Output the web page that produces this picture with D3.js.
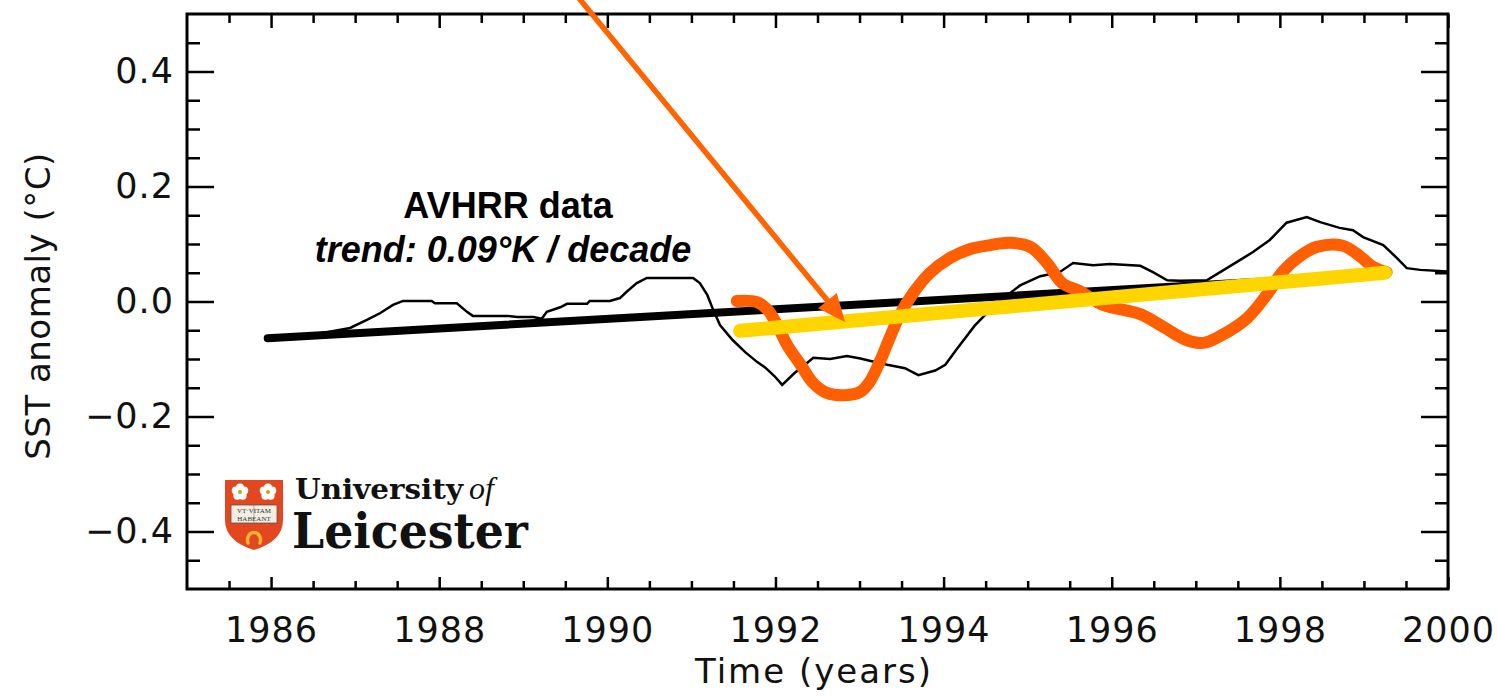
<!DOCTYPE html>
<html lang="en">
    <head>
        <meta charset="utf-8">
        <title>SST anomaly</title>
        <script type="text/javascript" src="https://cdn.jsdelivr.net/npm/d3@7"></script>
        <style>
            body { margin: 0; background: #fff; }
        </style>
    </head>
    <body>
        <script type="text/javascript">
        var w = 1498;
        var h = 696;

        // axis ticks
        var yearTicks = [1986, 1988, 1990, 1992, 1994, 1996, 1998, 2000];
        var anomalyTicks = [-0.4, -0.2, 0.0, 0.2, 0.4];

        // AVHRR monthly anomaly (thin black), [year, °C]
        var avhrrSeries = [
            [1985.96, -0.062], [1986.5, -0.058], [1986.94, -0.046], [1987.14, -0.032],
            [1987.30, -0.020], [1987.45, -0.006], [1987.57, 0.001], [1987.91, 0.001],
            [1987.95, -0.003], [1988.21, -0.003], [1988.33, -0.018], [1988.40, -0.025],
            [1988.81, -0.025], [1988.93, -0.027], [1989.12, -0.027], [1989.22, -0.030],
            [1989.28, -0.018], [1989.44, -0.010], [1989.52, -0.004], [1989.76, -0.004],
            [1989.79, 0.001], [1990.03, 0.001], [1990.15, 0.006], [1990.23, 0.017],
            [1990.35, 0.032], [1990.47, 0.041], [1991.02, 0.041], [1991.10, 0.032],
            [1991.19, 0.011], [1991.26, -0.015], [1991.34, -0.041], [1991.49, -0.067],
            [1991.64, -0.088], [1991.78, -0.105], [1991.88, -0.115], [1991.99, -0.130],
            [1992.08, -0.145], [1992.23, -0.124], [1992.35, -0.110], [1992.45, -0.098],
            [1992.65, -0.100], [1992.85, -0.095], [1993.01, -0.099], [1993.12, -0.103],
            [1993.33, -0.110], [1993.54, -0.116], [1993.70, -0.128], [1993.90, -0.120],
            [1994.02, -0.110], [1994.16, -0.082], [1994.37, -0.042], [1994.55, -0.015],
            [1994.73, 0.008], [1994.91, 0.028], [1995.15, 0.044], [1995.38, 0.051],
            [1995.54, 0.067], [1995.78, 0.063], [1995.98, 0.065], [1996.34, 0.062],
            [1996.49, 0.051], [1996.66, 0.037], [1996.81, 0.036], [1997.13, 0.037],
            [1997.29, 0.051], [1997.49, 0.069], [1997.68, 0.086], [1997.88, 0.107],
            [1998.08, 0.137], [1998.32, 0.147], [1998.48, 0.138], [1998.71, 0.128],
            [1998.87, 0.124], [1998.99, 0.112], [1999.23, 0.098], [1999.39, 0.076],
            [1999.51, 0.058], [1999.67, 0.055], [2000.0, 0.052]
        ];

        // linear trend of AVHRR data (thick black)
        var avhrrTrend = [[1985.96, -0.064], [1999.25, 0.047]];

        // hand drawn overlay curve (orange)
        var overlayCurve = [
            [1991.54, 0.001], [1991.78, -0.001], [1991.91, -0.015], [1992.02, -0.041],
            [1992.14, -0.076], [1992.30, -0.110], [1992.45, -0.142], [1992.61, -0.159],
            [1992.83, -0.163], [1993.01, -0.157], [1993.12, -0.140], [1993.24, -0.105],
            [1993.36, -0.063], [1993.48, -0.023], [1993.64, 0.015], [1993.84, 0.050],
            [1994.08, 0.076], [1994.31, 0.091], [1994.55, 0.098], [1994.79, 0.102],
            [1995.03, 0.095], [1995.23, 0.067], [1995.41, 0.032], [1995.62, 0.018],
            [1995.90, -0.006], [1996.34, -0.022], [1996.61, -0.044], [1996.89, -0.067],
            [1997.09, -0.072], [1997.29, -0.060], [1997.61, -0.029], [1997.85, 0.013],
            [1998.04, 0.053], [1998.24, 0.079], [1998.44, 0.095], [1998.75, 0.097],
            [1998.95, 0.079], [1999.11, 0.060], [1999.27, 0.051]
        ];

        // overlay trend (yellow)
        var overlayTrend = [[1991.58, -0.051], [1999.25, 0.050]];

        // annotation arrow: from above the plot down to the yellow trend
        var arrowPoints = [[1989.62, 0.535], [1992.83, -0.036]];

        var xScale = d3.scaleLinear()
                    .domain([1985, 2000])
                    .range([187, 1448]);

        var yScale = d3.scaleLinear()
                    .domain([-0.5, 0.5])
                    .range([589, 14]);

        var minorYears = d3.range(1985.5, 2000, 0.5).filter(function(d) { return d % 2 !== 0; });
        var minorAnoms = d3.range(-0.45, 0.46, 0.05).filter(function(d) {
            return Math.abs(Math.round(d * 100) % 20) !== 0;
        });

        var svg = d3.select("body")
                    .append("svg")
                    .attr("width", w)
                    .attr("height", h);

        var tickFont = "'DejaVu Sans', sans-serif";

        function styleAxis(g) {
            g.select(".domain").remove();
            g.selectAll("line").attr("stroke", "#000").attr("stroke-width", 2.5);
            g.selectAll("text")
                .attr("font-family", tickFont)
                .attr("font-size", "35px")
                .attr("letter-spacing", "1px")
                .attr("fill", "#111");
        }

        // bottom axis
        svg.append("g")
            .attr("transform", "translate(0," + yScale(-0.5) + ")")
            .call(d3.axisBottom(xScale).tickValues(yearTicks).tickSizeInner(-12).tickSizeOuter(0)
                .tickPadding(28).tickFormat(d3.format("d")))
            .call(styleAxis);
        svg.append("g")
            .attr("transform", "translate(0," + yScale(-0.5) + ")")
            .call(d3.axisBottom(xScale).tickValues(minorYears).tickSizeInner(-8).tickSizeOuter(0).tickFormat(""))
            .call(styleAxis);

        // top axis
        svg.append("g")
            .attr("transform", "translate(0," + yScale(0.5) + ")")
            .call(d3.axisTop(xScale).tickValues(yearTicks).tickSizeInner(-14).tickSizeOuter(0).tickFormat(""))
            .call(styleAxis);
        svg.append("g")
            .attr("transform", "translate(0," + yScale(0.5) + ")")
            .call(d3.axisTop(xScale).tickValues(minorYears).tickSizeInner(-9).tickSizeOuter(0).tickFormat(""))
            .call(styleAxis);

        // left axis
        svg.append("g")
            .attr("transform", "translate(" + xScale(1985) + ",0)")
            .call(d3.axisLeft(yScale).tickValues(anomalyTicks).tickSizeInner(-27).tickSizeOuter(0)
                .tickPadding(13).tickFormat(d3.format(".1f")))
            .call(styleAxis);
        svg.append("g")
            .attr("transform", "translate(" + xScale(1985) + ",0)")
            .call(d3.axisLeft(yScale).tickValues(minorAnoms).tickSizeInner(-13).tickSizeOuter(0).tickFormat(""))
            .call(styleAxis);

        // right axis
        svg.append("g")
            .attr("transform", "translate(" + xScale(2000) + ",0)")
            .call(d3.axisRight(yScale).tickValues(anomalyTicks).tickSizeInner(-27).tickSizeOuter(0).tickFormat(""))
            .call(styleAxis);
        svg.append("g")
            .attr("transform", "translate(" + xScale(2000) + ",0)")
            .call(d3.axisRight(yScale).tickValues(minorAnoms).tickSizeInner(-13).tickSizeOuter(0).tickFormat(""))
            .call(styleAxis);

        // frame
        svg.append("rect")
            .attr("x", xScale(1985))
            .attr("y", yScale(0.5))
            .attr("width", xScale(2000) - xScale(1985))
            .attr("height", yScale(-0.5) - yScale(0.5))
            .attr("fill", "none")
            .attr("stroke", "#000")
            .attr("stroke-width", 3);

        // axis titles
        svg.append("text")
            .text("Time (years)")
            .attr("x", 814)
            .attr("y", 683)
            .attr("text-anchor", "middle")
            .attr("font-family", tickFont)
            .attr("font-size", "34px")
            .attr("letter-spacing", "2px")
            .attr("fill", "#111");

        svg.append("text")
            .text("SST anomaly (°C)")
            .attr("transform", "translate(50,306) rotate(-90)")
            .attr("text-anchor", "middle")
            .attr("font-family", tickFont)
            .attr("font-size", "34px")
            .attr("letter-spacing", "0.5px")
            .attr("fill", "#111");

        var line = d3.line()
                    .x(function(d) { return xScale(d[0]); })
                    .y(function(d) { return yScale(d[1]); });

        svg.append("path")
            .datum(avhrrSeries)
            .attr("d", line)
            .attr("fill", "none")
            .attr("stroke", "#000")
            .attr("stroke-width", 2.5);

        svg.append("path")
            .datum(avhrrTrend)
            .attr("d", line)
            .attr("fill", "none")
            .attr("stroke", "#000")
            .attr("stroke-width", 8)
            .attr("stroke-linecap", "round");

        svg.append("path")
            .datum(overlayCurve)
            .attr("d", line.curve(d3.curveCatmullRom.alpha(0.5)))
            .attr("fill", "none")
            .attr("stroke", "#ff5f00")
            .attr("stroke-width", 12)
            .attr("stroke-linecap", "round")
            .attr("stroke-linejoin", "round");

        line.curve(d3.curveLinear);

        svg.append("path")
            .datum(overlayTrend)
            .attr("d", line)
            .attr("fill", "none")
            .attr("stroke", "#ffd500")
            .attr("stroke-width", 14)
            .attr("stroke-linecap", "round");

        // arrow
        var ax0 = xScale(arrowPoints[0][0]), ay0 = yScale(arrowPoints[0][1]);
        var ax1 = xScale(arrowPoints[1][0]), ay1 = yScale(arrowPoints[1][1]);
        var len = Math.sqrt((ax1 - ax0) * (ax1 - ax0) + (ay1 - ay0) * (ay1 - ay0));
        var ux = (ax1 - ax0) / len, uy = (ay1 - ay0) / len;
        var headL = 28, headW = 12;
        var bx = ax1 - ux * headL, by = ay1 - uy * headL;

        svg.append("line")
            .attr("x1", ax0)
            .attr("y1", ay0)
            .attr("x2", bx + ux * 2)
            .attr("y2", by + uy * 2)
            .attr("stroke", "#ff6400")
            .attr("stroke-width", 5.5);

        svg.append("polygon")
            .attr("points", [
                [ax1, ay1],
                [bx - uy * headW, by + ux * headW],
                [bx + uy * headW, by - ux * headW]
            ].map(function(p) { return p.join(","); }).join(" "))
            .attr("fill", "#ff6400");

        // annotation text
        svg.append("text")
            .text("AVHRR data")
            .attr("x", 508)
            .attr("y", 218)
            .attr("text-anchor", "middle")
            .attr("font-family", "'Liberation Sans', Arial, sans-serif")
            .attr("font-weight", "bold")
            .attr("font-size", "36px")
            .attr("fill", "#000");

        svg.append("text")
            .text("trend: 0.09°K / decade")
            .attr("x", 503)
            .attr("y", 262)
            .attr("text-anchor", "middle")
            .attr("font-family", "'Liberation Sans', Arial, sans-serif")
            .attr("font-weight", "bold")
            .attr("font-style", "italic")
            .attr("font-size", "36px")
            .attr("fill", "#000");

        // University of Leicester logo
        var logo = svg.append("g").attr("transform", "translate(225,480)");

        logo.append("path")
            .attr("d", "M0,0 H58 V40 Q58,61 29,70 Q0,61 0,40 Z")
            .attr("fill", "#e2471f");

        [[15, 12], [43, 12]].forEach(function(c) {
            for (var i = 0; i < 5; i++) {
                var a = i * 2 * Math.PI / 5 - Math.PI / 2;
                logo.append("circle")
                    .attr("cx", c[0] + Math.cos(a) * 4.5)
                    .attr("cy", c[1] + Math.sin(a) * 4.5)
                    .attr("r", 4)
                    .attr("fill", "#fff");
            }
            logo.append("circle")
                .attr("cx", c[0]).attr("cy", c[1]).attr("r", 2)
                .attr("fill", "#c8a020");
        });

        logo.append("rect")
            .attr("x", 6).attr("y", 25)
            .attr("width", 46).attr("height", 18)
            .attr("fill", "#f3eee4")
            .attr("stroke", "#555")
            .attr("stroke-width", 0.8);
        logo.append("line")
            .attr("x1", 29).attr("y1", 25).attr("x2", 29).attr("y2", 43)
            .attr("stroke", "#777").attr("stroke-width", 0.6);
        logo.append("text")
            .text("VT·VITAM")
            .attr("x", 29).attr("y", 33)
            .attr("text-anchor", "middle")
            .attr("font-family", "'Liberation Serif', serif")
            .attr("font-size", "7px")
            .attr("fill", "#333");
        logo.append("text")
            .text("HABEANT")
            .attr("x", 29).attr("y", 41)
            .attr("text-anchor", "middle")
            .attr("font-family", "'Liberation Serif', serif")
            .attr("font-size", "7px")
            .attr("fill", "#333");
        logo.append("path")
            .attr("d", "M23,63 A6.5,7.5 0 1,1 35,63")
            .attr("fill", "none")
            .attr("stroke", "#f2b431")
            .attr("stroke-width", 3.5)
            .attr("stroke-linecap", "round");

        svg.append("text")
            .text("University")
            .attr("x", 295)
            .attr("y", 499)
            .attr("textLength", 168)
            .attr("lengthAdjust", "spacingAndGlyphs")
            .attr("font-family", "'DejaVu Serif', serif")
            .attr("font-weight", "bold")
            .attr("font-size", "27px")
            .attr("fill", "#111");
        svg.append("text")
            .text("of")
            .attr("x", 469)
            .attr("y", 499)
            .attr("font-family", "'Liberation Serif', serif")
            .attr("font-style", "italic")
            .attr("font-size", "32px")
            .attr("fill", "#111");
        svg.append("text")
            .text("Leicester")
            .attr("x", 292)
            .attr("y", 548)
            .attr("textLength", 236)
            .attr("lengthAdjust", "spacingAndGlyphs")
            .attr("font-family", "'DejaVu Serif', serif")
            .attr("font-weight", "bold")
            .attr("font-size", "48px")
            .attr("fill", "#111");
        </script>
    </body>
</html>
